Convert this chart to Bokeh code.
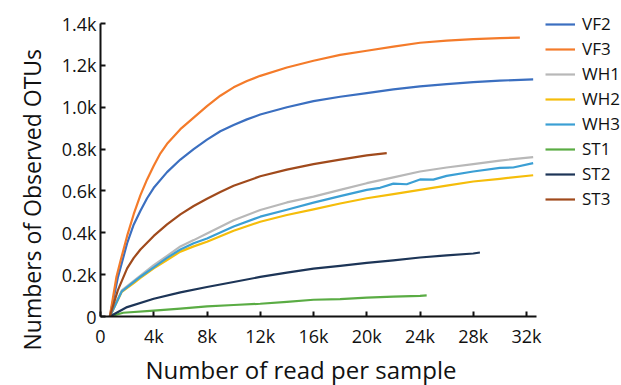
from bokeh.plotting import figure
from bokeh.models import FixedTicker, Legend, LegendItem, Range1d, Title
from bokeh.embed import file_html
from bokeh.resources import INLINE

# ---- data ----
series_names = ["VF2", "VF3", "WH1", "WH2", "WH3", "ST1", "ST2", "ST3"]
series_colors = ["#3b6fc0", "#f47b2a", "#b8b8b8", "#f5bd0a", "#3b9fd4", "#5aac44", "#1d3557", "#a04a1c"]

vf2_x = [700, 1300, 2000, 2500, 3000, 3500, 4000, 5000, 6000, 7000, 8000, 9000, 10000, 11000, 12000, 14000, 16000, 18000, 20000, 22000, 24000, 26000, 28000, 30000, 32500]
vf2_y = [0, 185, 350, 440, 505, 565, 615, 690, 750, 800, 845, 885, 915, 942, 965, 1000, 1029, 1050, 1067, 1085, 1100, 1110, 1120, 1127, 1133]

vf3_x = [700, 1200, 1500, 2000, 2500, 3000, 3500, 4000, 4500, 5000, 6000, 7000, 8000, 9000, 10000, 11000, 12000, 14000, 16000, 18000, 20000, 22000, 24000, 26000, 28000, 30000, 31500]
vf3_y = [0, 190, 265, 385, 490, 580, 655, 720, 780, 825, 895, 950, 1005, 1055, 1095, 1125, 1150, 1190, 1222, 1250, 1270, 1290, 1308, 1318, 1325, 1330, 1333]

wh1_x = [700, 1600, 2500, 3000, 4000, 5000, 6000, 7000, 8000, 10000, 12000, 14000, 16000, 18000, 20000, 22000, 24000, 26000, 28000, 30000, 32500]
wh1_y = [0, 125, 170, 195, 245, 290, 335, 365, 397, 460, 509, 545, 573, 605, 637, 665, 693, 712, 728, 745, 762]

wh2_x = [700, 1600, 2500, 3000, 4000, 5000, 6000, 7000, 8000, 10000, 12000, 14000, 16000, 18000, 20000, 22000, 24000, 26000, 28000, 30000, 32500]
wh2_y = [0, 118, 160, 185, 230, 270, 310, 335, 357, 410, 453, 485, 512, 540, 565, 585, 605, 625, 645, 658, 675]

wh3_x = [700, 1600, 2500, 3000, 4000, 5000, 6000, 7000, 8000, 10000, 12000, 14000, 16000, 18000, 20000, 21000, 22000, 23000, 24000, 25000, 26000, 28000, 30000, 31000, 32500]
wh3_y = [0, 120, 165, 190, 235, 280, 320, 350, 373, 430, 477, 510, 544, 575, 605, 615, 635, 632, 655, 654, 672, 693, 710, 712, 733]

st1_x = [700, 1700, 4000, 6000, 8000, 10000, 12000, 14000, 16000, 18000, 20000, 22000, 24000, 24500]
st1_y = [0, 18, 28, 38, 48, 55, 61, 70, 80, 83, 90, 95, 99, 101]

st2_x = [700, 2000, 4000, 6000, 8000, 10000, 12000, 14000, 16000, 18000, 20000, 22000, 24000, 26000, 28000, 28500]
st2_y = [0, 45, 85, 115, 141, 165, 189, 210, 229, 242, 256, 268, 282, 292, 301, 306]

st3_x = [700, 1300, 2000, 2500, 3000, 4000, 5000, 6000, 7000, 8000, 9000, 10000, 12000, 14000, 16000, 18000, 20000, 21500]
st3_y = [0, 125, 230, 280, 320, 385, 440, 488, 528, 563, 595, 625, 670, 702, 728, 750, 770, 781]

x_ticks = [0, 4000, 8000, 12000, 16000, 20000, 24000, 28000, 32000]
x_tick_labels = ["0", "4k", "8k", "12k", "16k", "20k", "24k", "28k", "32k"]
y_ticks = [0, 200, 400, 600, 800, 1000, 1200, 1400]
y_tick_labels = ["0", "0.2k", "0.4k", "0.6k", "0.8k", "1.0k", "1.2k", "1.4k"]

all_x = [vf2_x, vf3_x, wh1_x, wh2_x, wh3_x, st1_x, st2_x, st3_x]
all_y = [vf2_y, vf3_y, wh1_y, wh2_y, wh3_y, st1_y, st2_y, st3_y]

FONT = "Open Sans"
INK = "#111111"

# the frame spans to the top/right edges so the legend sits inside it;
# the axis lines are bounded to the data area
p = figure(width=621, height=385, output_backend="svg", toolbar_location=None,
           x_range=Range1d(0, 39135), y_range=Range1d(0, 1510),
           min_border_left=100, min_border_right=0, min_border_top=0, min_border_bottom=69)
p.outline_line_color = None
p.grid.grid_line_color = None
p.background_fill_color = "white"
p.border_fill_color = "white"

items = []
for name, col, xs, ys in zip(series_names, series_colors, all_x, all_y):
    r = p.line(xs, ys, line_color=col, line_width=2.2, line_join="round")
    items.append(LegendItem(label=name, renderers=[r]))

for ax in (p.xaxis[0], p.yaxis[0]):
    ax.axis_line_color = INK
    ax.axis_line_width = 2
    ax.major_tick_line_color = INK
    ax.major_tick_line_width = 2
    ax.major_tick_in = 5
    ax.major_tick_out = 0
    ax.minor_tick_line_color = None
    ax.major_label_text_font = FONT
    ax.major_label_text_color = INK
    ax.major_label_text_font_size = "18px"

p.xaxis.bounds = (0, 32750)
p.yaxis.bounds = (0, 1400)
p.xaxis.ticker = FixedTicker(ticks=x_ticks)
p.xaxis.major_label_overrides = dict(zip(x_ticks, x_tick_labels))
p.yaxis.ticker = FixedTicker(ticks=y_ticks)
p.yaxis.major_label_overrides = dict(zip(y_ticks, y_tick_labels))
p.xaxis.major_label_standoff = 7
p.yaxis.major_label_standoff = 4

xt = Title(text="Number of read per sample", align="left", offset=45,
           text_font=FONT, text_font_size="24px", text_font_style="normal",
           text_color=INK, standoff=0)
p.add_layout(xt, "below")
yt = Title(text="Numbers of Observed OTUs", align="left", offset=-34,
           text_font=FONT, text_font_size="23px", text_font_style="normal",
           text_color=INK, standoff=22)
p.add_layout(yt, "left")

legend = Legend(items=items, location=(445, 106), padding=0, margin=0,
                glyph_width=30, glyph_height=20, label_height=20, spacing=2,
                label_standoff=7, label_text_font=FONT, label_text_font_size="17px",
                label_text_color=INK, border_line_alpha=0, background_fill_alpha=0)
p.add_layout(legend)

open("out.html", "w").write(file_html(p, INLINE))
